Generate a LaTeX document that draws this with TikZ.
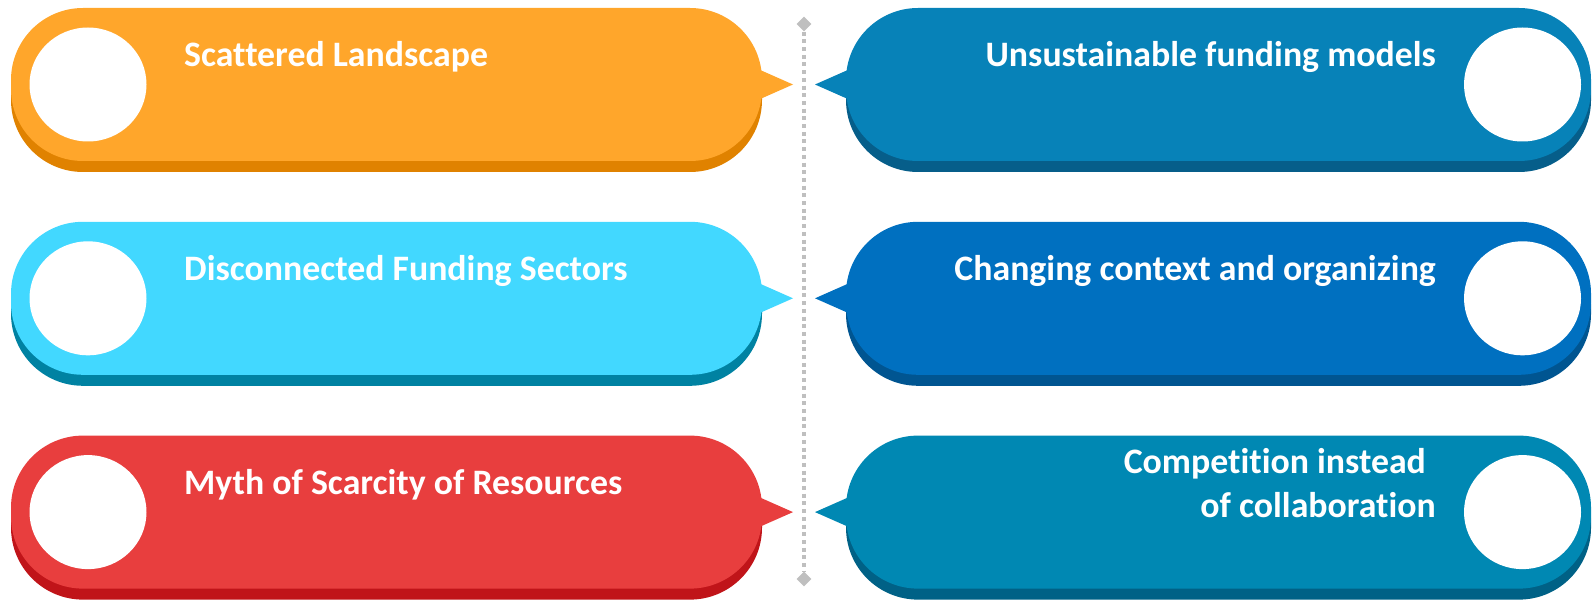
\documentclass[tikz,border=0pt]{standalone}
\usepackage{fontspec}
\setmainfont{Carlito}[RawFeature={-liga;-clig;-calt;-dlig}]
\usetikzlibrary{shapes.geometric}
\definecolor{orM}{HTML}{FFA62B}
\definecolor{orS}{HTML}{E08200}
\definecolor{cyM}{HTML}{42D8FF}
\definecolor{cyS}{HTML}{0082A2}
\definecolor{rdM}{HTML}{E83E3E}
\definecolor{rdS}{HTML}{C01419}
\definecolor{bAM}{HTML}{0782B8}
\definecolor{bAS}{HTML}{065E8A}
\definecolor{bBM}{HTML}{0070C0}
\definecolor{bBS}{HTML}{005591}
\definecolor{bCM}{HTML}{0088B3}
\definecolor{bCS}{HTML}{006186}
\definecolor{dotgray}{HTML}{BFBFBF}
\tikzset{
  lbl/.style={text=white, font=\bfseries\fontsize{35.8}{42}\selectfont, inner sep=0pt},
  pillcorner/.style={rounded corners=72pt},
  marker/.style={diamond, fill=dotgray, minimum size=15pt, inner sep=0pt},
}
\newcommand{\myleftpill}[3]{%
  \fill[#3, pillcorner] (11,#1-65.5) rectangle (762,#1+87.5);
  \fill[#2, pillcorner] (11,#1-76.5) rectangle (762,#1+76.5);
  \fill[#2] (750,#1-19) -- (793,#1) -- (750,#1+19) -- cycle;
  \fill[white] (88,#1) ellipse (58.5 and 57);
}
\newcommand{\myrightpill}[3]{%
  \fill[#3, pillcorner] (846,#1-65.5) rectangle (1591,#1+87.5);
  \fill[#2, pillcorner] (846,#1-76.5) rectangle (1591,#1+76.5);
  \fill[#2] (858,#1-19) -- (815,#1) -- (858,#1+19) -- cycle;
  \fill[white] (1522.5,#1) ellipse (58.5 and 57);
}
\begin{document}
\begin{tikzpicture}[x=1pt,y=-1pt]
\useasboundingbox (0,0) rectangle (1592,601);
% central dotted divider
\node[marker] (dtop) at (804,24) {};
\node[marker] (dbot) at (804,579) {};
\draw[dotgray, line width=4pt, dash pattern=on 4pt off 3.7pt] (dtop.south) -- (dbot.north);
% left pills
\myleftpill{84.5}{orM}{orS}
\myleftpill{298.3}{cyM}{cyS}
\myleftpill{512.1}{rdM}{rdS}
% right pills
\myrightpill{84.5}{bAM}{bAS}
\myrightpill{298.3}{bBM}{bBS}
\myrightpill{512.1}{bCM}{bCS}
% labels
\node[lbl, anchor=base west] (l1) at (184,66.7) {Scattered Landscape};
\node[lbl, anchor=base west] (l2) at (184,280.5) {Disconnected Funding Sectors};
\node[lbl, anchor=base west] (l3) at (184,494.3) {Myth of Scarcity of Resources};
\node[lbl, anchor=base east] (r1) at (1436,66.7) {Unsustainable funding models};
\node[lbl, anchor=base east] (r2) at (1436,280.5) {Changing context and organizing};
\node[lbl, anchor=base east] (r3a) at (1426,473.3) {Competition instead};
\node[lbl, anchor=base east] (r3b) at (1436,517.3) {of collaboration};
\end{tikzpicture}
\end{document}
